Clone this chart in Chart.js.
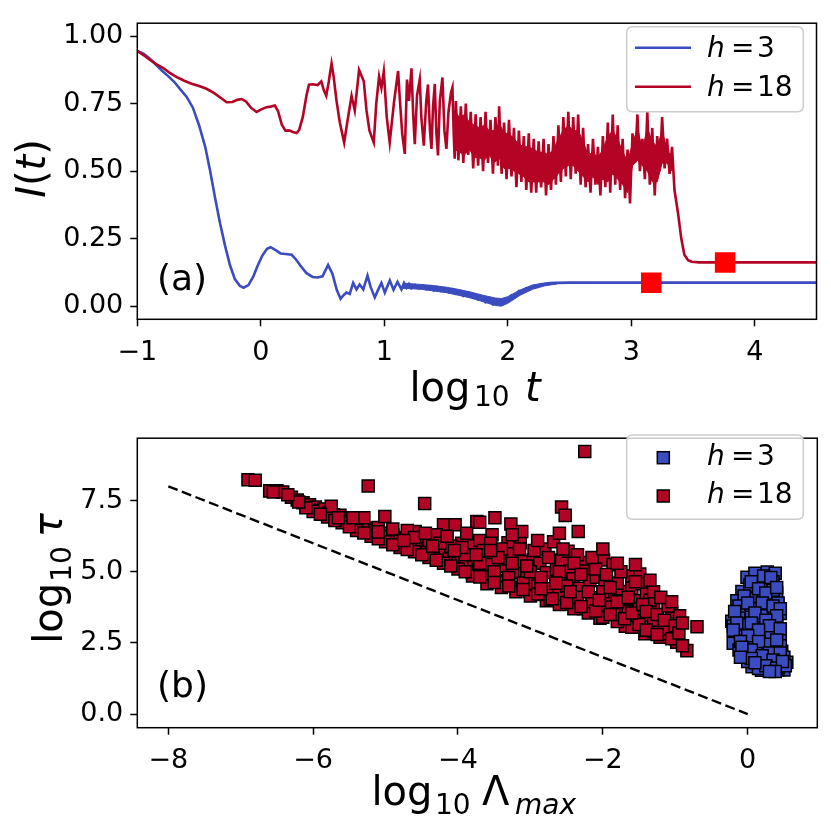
<!DOCTYPE html>
<html><head><meta charset="utf-8">
<script src="https://cdn.jsdelivr.net/npm/chart.js@4.4.1/dist/chart.umd.min.js"></script>
<style>
html,body{margin:0;padding:0;background:#fff;}
#wrap{position:relative;width:831px;height:831px;background:#fff;}
canvas{position:absolute;left:0;}
</style></head><body>
<div id="wrap">
<canvas id="top" width="831" height="415" style="top:0;width:831px;height:415px"></canvas>
<canvas id="bot" width="831" height="416" style="top:415px;width:831px;height:416px"></canvas>
</div>
<script>
// ---------- panel (a) data: [log10 t, I(t)] ----------
const h3Curve = [
[-1.00,0.945],[-0.95,0.935],[-0.90,0.917],[-0.85,0.895],[-0.80,0.872],[-0.75,0.852],[-0.70,0.830],[-0.65,0.802],
[-0.60,0.775],[-0.55,0.735],[-0.50,0.670],[-0.45,0.590],[-0.41,0.500],[-0.37,0.400],[-0.33,0.307],[-0.29,0.225],
[-0.25,0.152],[-0.21,0.100],[-0.17,0.075],[-0.14,0.068],[-0.10,0.078],[-0.06,0.110],[-0.03,0.145],[0.01,0.185],
[0.05,0.212],[0.08,0.218],[0.12,0.207],[0.16,0.195],[0.20,0.193],[0.25,0.190],[0.29,0.170],[0.32,0.150],
[0.37,0.122],[0.42,0.108],[0.46,0.106],[0.50,0.110],[0.545,0.152],[0.58,0.120],[0.615,0.060],[0.646,0.027],
[0.67,0.040],[0.694,0.050],[0.72,0.045],[0.748,0.086],[0.775,0.062],[0.80,0.080],[0.83,0.062],[0.864,0.113],
[0.89,0.070],[0.923,0.032],[0.95,0.060],[0.977,0.086],[1.004,0.050],[1.045,0.095],[1.075,0.060],[1.107,0.090],
[1.139,0.062],[1.16,0.085],[1.18,0.068],[1.20,0.082],[1.22,0.066],[1.25,0.078],[1.28,0.066],[1.31,0.076],
[1.34,0.062],[1.37,0.072],[1.40,0.058],[1.43,0.070],[1.46,0.056],[1.49,0.066],[1.52,0.052],[1.55,0.062],
[1.58,0.046],[1.61,0.055],[1.64,0.038],[1.67,0.050],[1.70,0.034],[1.73,0.040],[1.76,0.024],[1.79,0.032],
[1.82,0.014],[1.85,0.022],[1.88,0.006],[1.91,0.016],[1.94,0.004],[1.97,0.018],[2.00,0.022],[2.03,0.040],
[2.06,0.034],[2.09,0.056],[2.12,0.052],[2.15,0.066],[2.18,0.062],[2.21,0.074],[2.24,0.072],[2.27,0.081],
[2.30,0.079],[2.34,0.085],[2.40,0.086],[2.50,0.087],[4.50,0.087]
];
// noisy-band envelopes of the h=3 curve
const h3BandTop = [[1.15,0.085],[1.30,0.080],[1.40,0.076],[1.50,0.070],[1.60,0.062],[1.70,0.052],[1.80,0.040],
[1.90,0.030],[1.95,0.028],[2.00,0.035],[2.10,0.060],[2.20,0.078],[2.30,0.086],[2.40,0.088]];
const h3BandBot = [[1.15,0.066],[1.30,0.062],[1.40,0.056],[1.50,0.050],[1.60,0.040],[1.70,0.030],[1.80,0.016],
[1.90,0.002],[1.95,0.000],[2.00,0.010],[2.10,0.040],[2.20,0.062],[2.30,0.075],[2.40,0.082]];
const h18Curve = [
[-1.00,0.945],[-0.95,0.930],[-0.90,0.913],[-0.85,0.897],[-0.79,0.882],[-0.74,0.865],[-0.68,0.848],[-0.62,0.835],
[-0.56,0.824],[-0.50,0.815],[-0.44,0.805],[-0.38,0.790],[-0.32,0.770],[-0.277,0.755],[-0.23,0.756],[-0.19,0.764],
[-0.155,0.767],[-0.12,0.758],[-0.08,0.735],[-0.034,0.719],[0.00,0.728],[0.047,0.737],[0.08,0.739],[0.114,0.743],
[0.14,0.722],[0.17,0.672],[0.20,0.650],[0.23,0.651],[0.26,0.645],[0.29,0.641],[0.31,0.652],[0.34,0.700],
[0.37,0.780],[0.39,0.820],[0.42,0.822],[0.46,0.819],[0.49,0.832],[0.51,0.800],[0.53,0.779],[0.55,0.830],
[0.573,0.899],[0.59,0.850],[0.613,0.761],[0.64,0.680],[0.675,0.606],[0.70,0.680],[0.735,0.779],[0.761,0.725],
[0.796,0.875],[0.834,0.833],[0.856,0.725],[0.88,0.650],[0.915,0.606],[0.935,0.750],[0.958,0.851],[0.977,0.809],
[0.996,0.869],[1.02,0.700],[1.044,0.606],[1.08,0.760],[1.112,0.871],[1.125,0.773],[1.145,0.640],[1.166,0.564],
[1.184,0.839],[1.200,0.760],[1.220,0.881],[1.235,0.700],[1.247,0.600],[1.265,0.780],[1.287,0.839],[1.300,0.700],
[1.320,0.594],[1.340,0.760],[1.354,0.821],[1.370,0.650],[1.382,0.582],[1.395,0.740],[1.409,0.823],[1.422,0.640],
[1.435,0.558],[1.450,0.760],[1.471,0.847],[1.487,0.650],[1.503,0.582],[1.520,0.720],[1.540,0.790],[1.552,0.809],
[1.562,0.640],[1.570,0.546],
[1.58,0.76],[1.60,0.54],[1.62,0.74],[1.64,0.53],[1.66,0.75],[1.68,0.56],[1.70,0.72],[1.72,0.51],[1.74,0.71],
[1.76,0.52],[1.78,0.70],[1.80,0.50],[1.82,0.72],[1.84,0.53],[1.86,0.69],[1.88,0.49],[1.90,0.70],[1.92,0.52],
[1.93,0.74],[1.95,0.49],[1.97,0.68],[1.99,0.47],[2.01,0.69],[2.03,0.48],[2.05,0.66],[2.07,0.44],[2.09,0.65],
[2.11,0.46],[2.13,0.63],[2.15,0.43],[2.17,0.64],[2.19,0.42],[2.21,0.62],[2.23,0.42],[2.25,0.61],[2.27,0.44],
[2.29,0.62],[2.31,0.41],[2.33,0.60],[2.35,0.43],[2.37,0.63],[2.39,0.45],[2.41,0.67],[2.43,0.46],[2.45,0.70],
[2.47,0.48],[2.49,0.72],[2.51,0.47],[2.53,0.70],[2.55,0.49],[2.57,0.71],[2.59,0.45],[2.61,0.66],[2.63,0.44],
[2.65,0.60],[2.67,0.42],[2.69,0.62],[2.71,0.45],[2.73,0.59],[2.75,0.41],[2.77,0.63],[2.79,0.44],[2.81,0.68],
[2.83,0.42],[2.85,0.71],[2.87,0.45],[2.89,0.67],[2.91,0.43],[2.93,0.62],[2.95,0.40],[2.97,0.58],[2.99,0.38],
[3.01,0.64],[3.03,0.53],[3.05,0.71],[3.07,0.50],[3.09,0.62],[3.11,0.47],[3.13,0.72],[3.15,0.45],[3.17,0.66],
[3.19,0.41],[3.21,0.63],[3.23,0.50],[3.25,0.70],[3.27,0.51],[3.29,0.62],[3.31,0.49],[3.33,0.59],[3.35,0.43],
[3.38,0.34],[3.405,0.25],[3.43,0.19],[3.46,0.17],[3.49,0.164],[3.55,0.162],[4.50,0.162]
];
// noisy-band envelopes of the h=18 curve
const h18BandTop = [[1.57,0.72],[1.61,0.70],[1.65,0.71],[1.69,0.68],[1.73,0.67],[1.77,0.66],[1.81,0.67],[1.85,0.65],
[1.89,0.65],[1.93,0.68],[1.97,0.64],[2.01,0.64],[2.05,0.62],[2.09,0.60],[2.13,0.59],[2.17,0.59],[2.21,0.58],
[2.25,0.57],[2.29,0.57],[2.33,0.56],[2.37,0.58],[2.41,0.62],[2.45,0.65],[2.49,0.67],[2.53,0.65],[2.57,0.65],
[2.61,0.61],[2.65,0.56],[2.69,0.57],[2.73,0.55],[2.77,0.58],[2.81,0.63],[2.85,0.65],[2.89,0.62],[2.93,0.57],
[2.97,0.54],[3.01,0.60],[3.05,0.66],[3.09,0.58],[3.13,0.66],[3.17,0.61],[3.21,0.59],[3.25,0.65],[3.29,0.58],[3.33,0.55]];
const h18BandBot = [[1.57,0.58],[1.61,0.57],[1.65,0.56],[1.69,0.58],[1.73,0.55],[1.77,0.55],[1.81,0.54],[1.85,0.56],
[1.89,0.53],[1.93,0.55],[1.97,0.51],[2.01,0.51],[2.05,0.50],[2.09,0.49],[2.13,0.48],[2.17,0.46],[2.21,0.46],
[2.25,0.46],[2.29,0.46],[2.33,0.45],[2.37,0.47],[2.41,0.49],[2.45,0.51],[2.49,0.52],[2.53,0.52],[2.57,0.50],
[2.61,0.48],[2.65,0.46],[2.69,0.48],[2.73,0.45],[2.77,0.47],[2.81,0.46],[2.85,0.49],[2.89,0.47],[2.93,0.45],
[2.97,0.42],[3.01,0.52],[3.05,0.54],[3.09,0.52],[3.13,0.50],[3.17,0.46],[3.21,0.46],[3.25,0.53],[3.29,0.53],[3.33,0.50]];
const markT = [3.162, 3.760];
const markI = [0.086, 0.161];
const topXTicks = [-1, 0, 1, 2, 3, 4];
const topYTicks = [0, 0.25, 0.5, 0.75, 1.0];

// ---------- panel (b) data: [log10 Lambda_max, log10 tau] ----------
const h18Points = [
[-6.90,8.23],[-6.80,8.21],[-6.60,7.84],[-6.50,7.84],[-6.42,7.80],[-6.30,7.62],[-6.22,7.52],[-6.14,7.42],[-6.05,7.35],
[-5.97,7.27],[-5.90,7.15],[-5.85,7.20],[-5.79,7.05],[-5.72,7.00],[-5.63,6.98],[-5.58,6.88],[-5.49,6.79],[-5.42,6.72],
[-5.35,6.60],[-5.24,6.54],[-5.24,8.01],[-5.15,6.45],[-5.10,6.55],[-5.01,6.94],[-5.05,6.35],[-4.96,6.24],[-4.90,6.30],
[-4.85,6.15],[-4.80,6.08],[-4.72,6.20],[-4.68,6.00],[-4.59,6.41],[-4.62,5.95],[-4.55,6.05],[-4.50,5.80],[-4.46,7.40],
[-4.42,5.75],[-4.40,6.10],[-4.36,5.65],[-4.30,5.85],[-4.25,5.55],[-4.20,6.65],[-4.18,5.70],[-4.12,5.45],[-4.04,6.65],
[-4.06,5.60],[-4.00,5.30],[-3.95,5.50],[-3.90,5.20],[-3.85,5.75],[-3.81,4.99],[-3.81,5.91],[-3.78,5.40],[-3.74,6.76],
[-3.72,5.10],[-3.70,6.74],[-3.68,4.85],[-3.63,4.95],[-3.60,4.58],[-3.60,5.52],[-3.60,4.92],[-3.55,5.25],[-3.53,6.30],
[-3.49,6.90],[-3.48,4.70],[-3.42,5.19],[-3.40,4.64],[-3.35,5.45],[-3.31,6.02],[-3.27,6.68],[-3.26,5.63],[-3.24,4.97],
[-3.20,4.45],[-3.14,6.02],[-3.12,6.41],[-3.10,5.36],[-3.05,4.80],[-3.01,4.31],[-2.96,5.41],[-2.96,4.58],[-2.90,4.20],
[-2.87,5.30],[-2.80,5.80],[-2.78,4.97],[-2.78,3.98],[-2.73,4.03],[-2.70,4.40],[-2.68,6.05],[-2.64,5.08],[-2.59,4.69],
[-2.57,7.27],[-2.57,5.41],[-2.52,6.98],[-2.48,5.72],[-2.45,5.03],[-2.45,3.86],[-2.41,4.75],[-2.34,6.41],[-2.32,4.42],
[-2.27,5.32],[-2.27,5.03],[-2.27,3.70],[-2.25,9.22],[-2.18,4.69],[-2.13,4.09],[-2.09,4.81],[-2.04,3.37],[-1.99,5.41],
[-1.97,4.64],[-1.97,3.70],[-1.95,4.14],[-1.88,3.76],[-1.86,5.25],[-1.76,4.31],[-1.76,3.98],[-1.69,3.65],[-1.69,3.09],
[-1.60,4.86],[-1.60,4.42],[-1.53,3.98],[-1.49,4.92],[-1.49,3.42],[-1.46,4.58],[-1.42,2.82],[-1.40,4.22],[-1.35,3.48],
[-1.30,3.86],[-1.21,2.70],[-1.19,3.15],[-1.10,2.82],[-1.05,3.59],[-0.98,2.52],[-0.94,3.45],[-0.84,2.23],[-0.70,3.07],
[-6.00,7.12],[-5.80,6.92],[-5.60,6.72],[-5.40,6.45],[-5.20,6.25],[-5.00,6.05],[-4.80,5.85],[-4.60,5.70],[-4.40,5.50],
[-4.20,5.30],[-4.00,5.10],[-3.80,4.85],[-3.40,4.45],[-3.20,4.30],[-3.00,4.15],[-2.60,3.85],[-2.40,3.70],[-2.20,3.55],
[-2.00,3.40],[-1.80,3.25],[-1.60,3.05],[-1.30,2.90],[-3.90,5.60],[-3.70,5.30],[-3.50,5.00],[-3.30,4.80],[-3.10,4.60],
[-2.90,4.50],[-2.60,4.20],[-2.50,4.50],[-2.35,4.10],[-2.15,3.95],[-2.00,4.30],[-1.85,3.50],[-1.65,3.60],[-1.50,3.70],
[-1.30,3.30],[-1.15,3.00],[-3.00,5.00],[-2.85,4.80],[-2.60,5.00],[-2.10,5.10],[-1.80,4.60],[-1.35,4.00],[-2.35,5.60],
[-3.40,5.80],[-3.70,6.10],[-3.95,6.00],[-4.10,5.90],[-4.30,6.30],[-4.70,6.45],[-5.30,6.90],[-5.75,7.30],
[-6.10,7.25],[-5.90,7.02],[-5.70,6.80],[-5.50,6.58],[-5.30,6.36],[-5.10,6.16],[-4.90,5.95],[-4.70,5.78],[-4.50,5.60],
[-4.30,5.40],[-4.10,5.20],[-3.90,5.00],[-3.70,4.82],[-3.50,4.62],[-3.30,4.50],[-3.10,4.38],[-2.90,4.22],[-2.70,4.05],
[-2.50,3.92],[-2.30,3.78],[-2.10,3.62],[-1.90,3.50],[-1.70,3.35],[-1.50,3.15],[-1.40,2.95],[-1.25,2.80],[-1.05,2.65],
[-0.90,2.40],[-4.90,6.50],[-4.60,6.20],[-4.45,6.35],[-4.25,6.00],[-4.15,6.25],[-3.95,5.85],[-3.88,6.35],[-3.65,5.75],
[-3.55,6.00],[-3.45,5.50],[-3.25,5.30],[-3.15,5.80],[-3.05,5.20],[-2.95,5.75],[-2.85,4.40],[-2.75,5.50],[-2.65,4.60],
[-2.55,5.80],[-2.45,4.30],[-2.40,5.30],[-2.30,4.90],[-2.20,4.30],[-2.15,5.50],[-2.05,4.00],[-1.95,4.90],[-1.90,4.45],
[-1.80,3.95],[-1.75,5.00],[-1.65,4.10],[-1.60,3.55],[-1.55,4.65],[-1.45,3.85],[-1.40,3.60],[-1.30,4.30],[-1.25,3.50],
[-1.15,3.30],[-1.10,3.80],[-1.00,3.10],[-0.95,2.85],[-0.90,3.20],[-2.60,6.35],[-2.90,6.10],[-3.25,6.30],[-2.00,5.80],
[-1.80,5.30],[-1.55,5.25],[-1.35,4.70],[-1.20,4.10],[-1.05,3.95],[-3.55,5.75],[-3.75,5.60],[-4.05,5.75],[-4.35,5.90],
[-4.75,6.10],[-5.10,6.40],[-5.45,6.90],[-5.65,6.90],[-6.20,7.45],[-6.35,7.70],[-6.55,7.80]
];
const h3Points = [
[0.27,4.99],[0.38,4.95],[-0.01,4.81],[0.15,4.81],[0.28,4.53],[-0.08,4.31],[0.10,4.22],[0.40,4.25],[-0.15,3.98],
[0.26,3.86],[-0.06,3.70],[0.15,3.20],[0.35,3.37],[-0.22,3.26],[-0.01,2.98],[0.45,2.70],[0.24,2.65],[-0.15,2.76],
[-0.20,2.49],[0.08,2.43],[-0.04,2.10],[0.33,1.99],[0.45,1.60],[0.19,1.54],[0.06,1.66],[0.54,1.82],[0.47,2.21],
[0.38,2.98],[0.45,3.53],[0.19,4.20],[0.03,4.53],[-0.20,3.09],[0.20,4.60],[0.35,4.65],[0.05,4.05],[0.30,4.10],
[0.42,3.90],[0.12,3.70],[0.30,3.60],[-0.12,3.45],[0.05,3.40],[0.22,3.05],[0.40,3.20],[-0.10,3.00],[0.10,2.80],
[0.32,2.80],[0.45,2.40],[0.00,2.60],[0.20,2.30],[-0.12,2.25],[0.35,2.30],[0.10,2.00],[0.25,1.85],[0.00,1.85],
[0.40,1.75],[0.50,2.00],[0.30,1.60],[0.15,1.75],[0.50,1.55],[0.42,1.55],[0.35,4.35],[0.20,3.45],[-0.05,3.15],[0.28,2.45],
[0.10,4.95],[0.22,4.85],[0.32,4.80],[0.05,4.65],[0.15,4.40],[0.25,4.25],[0.40,4.45],[-0.05,4.15],[-0.12,3.80],
[0.00,3.90],[0.20,3.90],[0.35,3.80],[0.45,3.70],[-0.18,3.60],[0.10,3.55],[0.40,3.45],[0.25,3.30],[-0.15,3.20],
[0.05,3.20],[0.30,3.10],[0.45,3.00],[-0.20,2.95],[0.15,2.95],[0.00,2.75],[0.40,2.60],[-0.10,2.55],[0.15,2.55],
[0.30,2.15],[0.05,2.25],[-0.08,2.35],[0.45,2.15],[0.20,2.05],[0.35,1.90],[0.05,1.95],[0.15,1.60],[0.25,1.70],
[0.40,1.62],[0.52,1.70],[0.48,1.85],[0.10,1.80],[-0.10,2.00],[0.38,1.50],[0.30,1.50]
];
const guideX = [-8, 0];
const guideY = [8, 0];
const botXTicks = [-8, -6, -4, -2, 0];
const botYTicks = [0, 2.5, 5, 7.5];

// ---------- styling ----------
const FAM = "'DejaVu Sans', sans-serif";
const BLUE = '#3b4cc0', RED = '#b40426';
Chart.defaults.font.family = FAM;
Chart.defaults.color = '#000';

const toXY = arr => arr.map(p => ({x: p[0], y: p[1]}));
const fixTicks = vals => scale => { scale.ticks = vals.map(v => ({value: v})); };
const minus = s => String(s).replace('-', '\u2212');

function axisX(min, max, ticks, h) {
  return {type: 'linear', min, max, afterBuildTicks: fixTicks(ticks), afterFit: s => { s.height = h; },
    grid: {drawOnChartArea: false, tickLength: 7, tickWidth: 1.5, tickColor: '#000'},
    border: {display: false},
    ticks: {font: {size: 27}, padding: 10, maxRotation: 0, autoSkip: false, color: '#000',
      callback: v => minus(v)}};
}
function axisY(min, max, ticks, dec) {
  return {type: 'linear', min, max, afterBuildTicks: fixTicks(ticks), afterFit: s => { s.width = 137.3; },
    grid: {drawOnChartArea: false, tickLength: 7, tickWidth: 1.5, tickColor: '#000'},
    border: {display: false},
    ticks: {font: {size: 27}, padding: 7, autoSkip: false, color: '#000',
      callback: v => minus(Number(v).toFixed(dec))}};
}
const framePlugin = {id: 'frame', afterDatasetsDraw(chart) {
  const a = chart.chartArea, c = chart.ctx;
  c.save(); c.strokeStyle = '#000'; c.lineWidth = 1.5;
  c.strokeRect(a.left, a.top, a.right - a.left, a.bottom - a.top); c.restore();
}};
function seq(ctx, parts, x, y, center) {
  let w = 0;
  parts.forEach(p => { ctx.font = p.f; w += ctx.measureText(p.t).width + (p.g || 0); });
  let cx = center ? x - w / 2 : x;
  parts.forEach(p => { ctx.font = p.f; cx += (p.g || 0); ctx.fillText(p.t, cx, y + (p.dy || 0)); cx += ctx.measureText(p.t).width; });
}
function legendBox(c, x, y, w, h) {
  const r = 6;
  c.beginPath();
  c.moveTo(x + r, y); c.lineTo(x + w - r, y); c.quadraticCurveTo(x + w, y, x + w, y + r);
  c.lineTo(x + w, y + h - r); c.quadraticCurveTo(x + w, y + h, x + w - r, y + h);
  c.lineTo(x + r, y + h); c.quadraticCurveTo(x, y + h, x, y + h - r);
  c.lineTo(x, y + r); c.quadraticCurveTo(x, y, x + r, y); c.closePath();
  c.fillStyle = 'rgba(255,255,255,0.8)'; c.fill();
  c.strokeStyle = '#cccccc'; c.lineWidth = 1.5; c.stroke();
}
function legendText(c, val, baseline) {
  c.fillStyle = '#000'; c.textAlign = 'left'; c.textBaseline = 'alphabetic';
  c.font = 'italic 28px ' + FAM; c.fillText('h', 707, baseline);
  c.font = '28px ' + FAM; c.fillText('=', 731, baseline);
  c.fillText(val, 757, baseline);
}
const IT40 = 'italic 40px ' + FAM, UP40 = '40px ' + FAM, UP28 = '28px ' + FAM, IT28 = 'italic 28px ' + FAM;

const topDecor = {id: 'topDecor', afterDraw(chart) {
  const c = chart.ctx; c.save();
  c.fillStyle = '#000'; c.textAlign = 'left'; c.textBaseline = 'alphabetic';
  c.font = UP40; c.fillText('log', 409.5, 400.7);
  c.font = UP28; c.fillText('10', 474, 406);
  c.font = IT40; c.fillText('t', 525, 400.7);
  c.save(); c.translate(45, 168.5); c.rotate(-Math.PI / 2);
  seq(c, [{t: 'I', f: IT40}, {t: '(', f: UP40}, {t: 't', f: IT40}, {t: ')', f: UP40}], 0, 0, true);
  c.restore();
  c.font = '36px ' + FAM; c.fillText('(a)', 157, 290);
  legendBox(c, 626.7, 26.7, 176.6, 85);
  c.lineWidth = 2.6;
  c.strokeStyle = BLUE; c.beginPath(); c.moveTo(635, 47.7); c.lineTo(691, 47.7); c.stroke();
  c.strokeStyle = RED; c.beginPath(); c.moveTo(635, 86.7); c.lineTo(691, 86.7); c.stroke();
  legendText(c, '3', 57); legendText(c, '18', 96.3);
  c.restore();
}};
const botDecor = {id: 'botDecor', afterDraw(chart) {
  const c = chart.ctx; c.save();
  c.fillStyle = '#000'; c.textAlign = 'left'; c.textBaseline = 'alphabetic';
  c.font = UP40; c.fillText('log', 371.5, 390);
  c.font = UP28; c.fillText('10', 435, 399);
  c.font = UP40; c.fillText('\u039B', 482, 390);
  c.font = IT28; c.fillText('max', 515, 399);
  c.save(); c.translate(62, 163.5); c.rotate(-Math.PI / 2);
  seq(c, [{t: 'log', f: UP40}, {t: '10', f: UP28, dy: 9, g: 1}, {t: '\u03C4', f: IT40, g: 9}], 0, 0, true);
  c.restore();
  c.font = '36px ' + FAM; c.fillText('(b)', 157, 282);
  legendBox(c, 626.7, 20, 176.6, 84.3);
  const sq = (x, y, col) => { c.fillStyle = col; c.fillRect(x - 6, y - 6, 12, 12); c.strokeStyle = '#000'; c.lineWidth = 1.5; c.strokeRect(x - 6, y - 6, 12, 12); };
  sq(663.3, 42.7, BLUE); sq(663.3, 81, RED);
  legendText(c, '3', 50.3); legendText(c, '18', 88);
  c.restore();
}};

const band = (arr, col, fill, ord) => ({data: toXY(arr), borderColor: col, backgroundColor: col, borderWidth: 1,
  pointRadius: 0, tension: 0, fill: fill, order: ord});

new Chart(document.getElementById('top'), {
  type: 'line',
  data: {datasets: [
    {data: toXY(h3Curve), borderColor: BLUE, borderWidth: 2.6, pointRadius: 0, tension: 0, order: 3},
    band(h3BandTop, BLUE, '+1', 4),
    band(h3BandBot, BLUE, false, 4),
    {data: toXY(h18Curve), borderColor: RED, borderWidth: 2.6, pointRadius: 0, tension: 0, order: 2},
    band(h18BandTop, RED, '+1', 2.5),
    band(h18BandBot, RED, false, 2.5),
    {data: markT.map((t, i) => ({x: t, y: markI[i]})), showLine: false, pointStyle: 'rect', pointRadius: 14.5,
     pointBackgroundColor: '#ff0000', pointBorderWidth: 0, borderColor: '#ff0000', order: 1}
  ]},
  options: {responsive: false, animation: false, events: [],
    layout: {padding: {left: 0, right: 14, top: 13.3, bottom: 0}},
    plugins: {legend: {display: false}, tooltip: {enabled: false}, filler: {propagate: false}},
    scales: {x: axisX(-1, 4.5, topXTicks, 95.7), y: axisY(-0.049, 1.048, topYTicks, 2)}},
  plugins: [framePlugin, topDecor]
});

new Chart(document.getElementById('bot'), {
  type: 'scatter',
  data: {datasets: [
    {data: guideX.map((x, i) => ({x, y: guideY[i]})), showLine: true, borderColor: '#000', borderWidth: 2.4,
     borderDash: [10, 4.6], pointRadius: 0, order: 3},
    {data: toXY(h3Points), pointStyle: 'rect', pointRadius: 8.5, pointBackgroundColor: BLUE,
     pointBorderColor: '#000', pointBorderWidth: 1.5, order: 2},
    {data: toXY(h18Points), pointStyle: 'rect', pointRadius: 8.5, pointBackgroundColor: RED,
     pointBorderColor: '#000', pointBorderWidth: 1.5, order: 1}
  ]},
  options: {responsive: false, animation: false, events: [],
    layout: {padding: {left: 0, right: 13.7, top: 6, bottom: 0}},
    plugins: {legend: {display: false}, tooltip: {enabled: false}},
    scales: {x: axisX(-8.428, 0.961, botXTicks, 103.3), y: axisY(-0.477, 9.69, botYTicks, 1)}},
  plugins: [framePlugin, botDecor]
});
</script>
</body></html>
